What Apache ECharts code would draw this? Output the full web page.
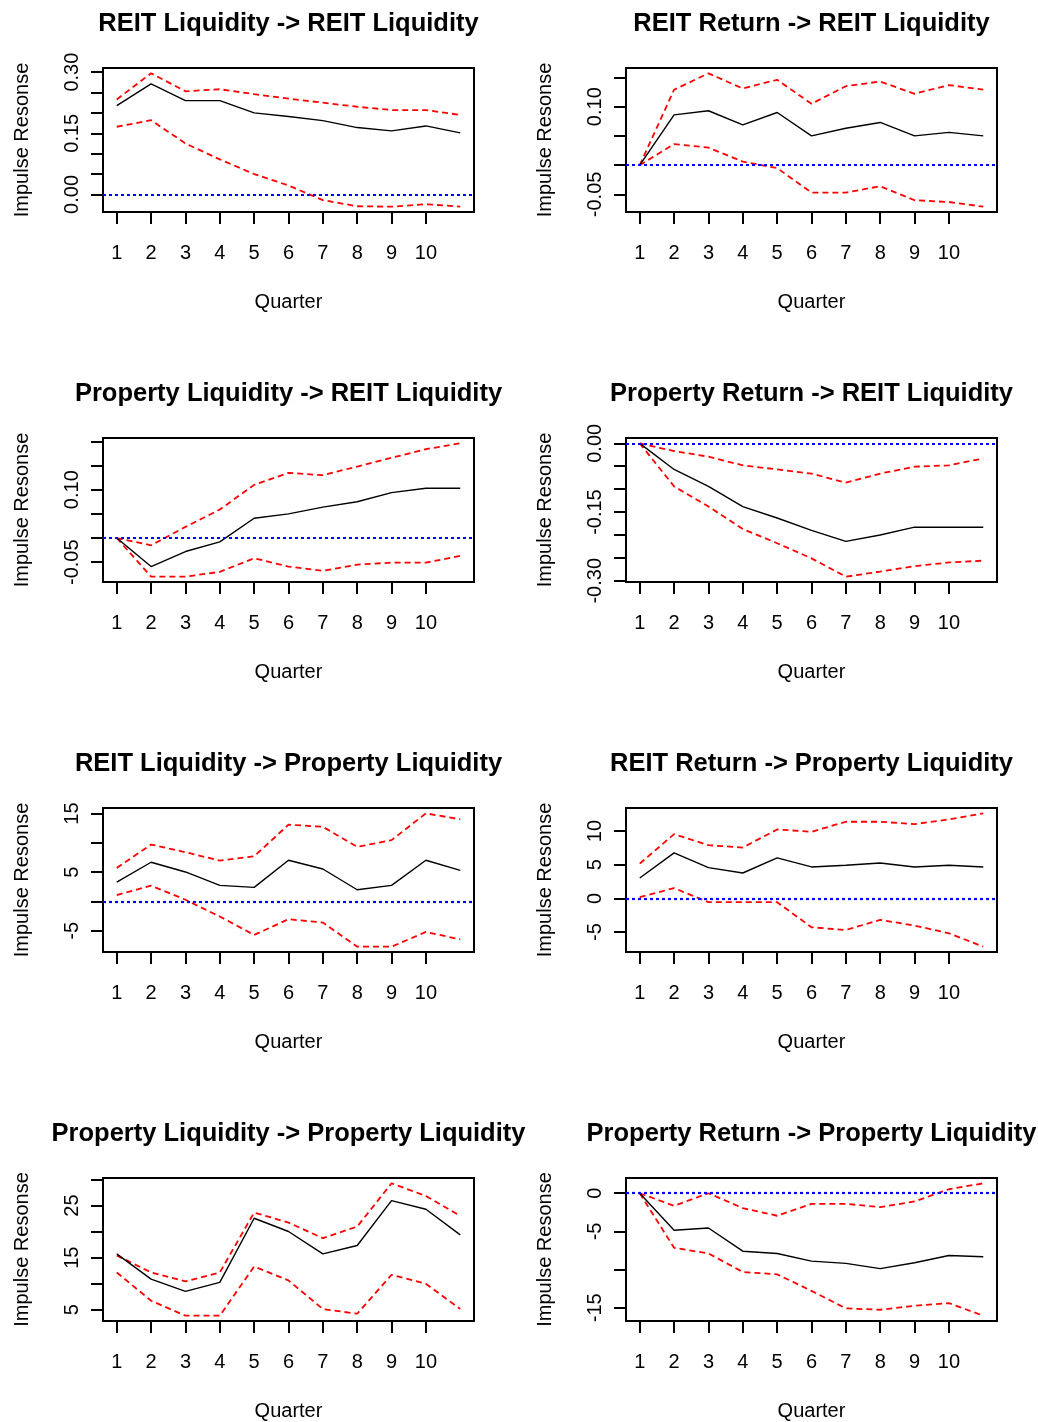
<!DOCTYPE html>
<html>
<head>
<meta charset="utf-8">
<script src="https://cdn.jsdelivr.net/npm/echarts@6/dist/echarts.min.js"></script>
<style>
html,body{margin:0;padding:0;background:#fff;}
#chart{width:1038px;height:1422px;}
</style>
</head>
<body>
<div id="chart"></div>
<script>
// ---------- data ----------
const quarters = [1, 2, 3, 4, 5, 6, 7, 8, 9, 10, 11];
const xTickLabels = [1, 2, 3, 4, 5, 6, 7, 8, 9, 10];
const yAxisTitle = 'Impulse Resonse';
const xAxisTitle = 'Quarter';

const titles = [
  'REIT Liquidity -> REIT Liquidity',
  'REIT Return -> REIT Liquidity',
  'Property Liquidity -> REIT Liquidity',
  'Property Return -> REIT Liquidity',
  'REIT Liquidity -> Property Liquidity',
  'REIT Return -> Property Liquidity',
  'Property Liquidity -> Property Liquidity',
  'Property Return -> Property Liquidity'
];

// Panel 1: REIT Liquidity -> REIT Liquidity
const p1_irf   = [0.218, 0.271, 0.230, 0.230, 0.200, 0.191, 0.181, 0.164, 0.156, 0.168, 0.151];
const p1_upper = [0.233, 0.297, 0.253, 0.258, 0.246, 0.235, 0.225, 0.215, 0.207, 0.207, 0.195];
const p1_lower = [0.166, 0.182, 0.125, 0.086, 0.050, 0.022, -0.014, -0.029, -0.030, -0.024, -0.030];
const p1_ticks  = [0.00, 0.05, 0.10, 0.15, 0.20, 0.25, 0.30];
const p1_labels = [0.00, 0.15, 0.30];

// Panel 2: REIT Return -> REIT Liquidity
const p2_irf   = [0.000, 0.086, 0.093, 0.069, 0.090, 0.050, 0.063, 0.073, 0.050, 0.056, 0.050];
const p2_upper = [0.000, 0.129, 0.157, 0.131, 0.146, 0.105, 0.135, 0.143, 0.122, 0.137, 0.129];
const p2_lower = [0.000, 0.036, 0.030, 0.006, -0.005, -0.047, -0.047, -0.036, -0.060, -0.063, -0.071];
const p2_ticks  = [-0.05, 0.00, 0.05, 0.10, 0.15];
const p2_labels = [-0.05, 0.10];

// Panel 3: Property Liquidity -> REIT Liquidity
const p3_irf   = [0.000, -0.059, -0.028, -0.008, 0.041, 0.050, 0.064, 0.075, 0.094, 0.103, 0.103];
const p3_upper = [0.000, -0.015, 0.023, 0.059, 0.110, 0.135, 0.130, 0.148, 0.166, 0.184, 0.196];
const p3_lower = [0.000, -0.080, -0.080, -0.070, -0.042, -0.059, -0.068, -0.055, -0.051, -0.051, -0.037];
const p3_ticks  = [-0.05, 0.00, 0.05, 0.10, 0.15, 0.20];
const p3_labels = [-0.05, 0.10];

// Panel 4: Property Return -> REIT Liquidity
const p4_irf   = [0.000, -0.057, -0.094, -0.138, -0.163, -0.190, -0.214, -0.200, -0.183, -0.183, -0.183];
const p4_upper = [0.000, -0.017, -0.029, -0.048, -0.057, -0.066, -0.086, -0.066, -0.051, -0.048, -0.033];
const p4_lower = [0.000, -0.094, -0.138, -0.187, -0.218, -0.251, -0.291, -0.280, -0.268, -0.260, -0.256];
const p4_ticks  = [-0.30, -0.25, -0.20, -0.15, -0.10, -0.05, 0.00];
const p4_labels = [-0.30, -0.15, 0.00];

// Panel 5: REIT Liquidity -> Property Liquidity
const p5_irf   = [3.31, 6.69, 5.03, 2.74, 2.40, 7.03, 5.54, 2.00, 2.74, 7.03, 5.31];
const p5_upper = [5.71, 9.71, 8.40, 6.97, 7.71, 13.09, 12.74, 9.31, 10.46, 15.03, 14.00];
const p5_lower = [1.09, 2.69, 0.29, -2.57, -5.71, -3.03, -3.60, -7.71, -7.71, -5.20, -6.46];
const p5_ticks  = [-5, 0, 5, 10, 15];
const p5_labels = [-5, 5, 15];

// Panel 6: REIT Return -> Property Liquidity
const p6_irf   = [3.03, 6.77, 4.58, 3.78, 6.02, 4.68, 4.93, 5.27, 4.68, 4.93, 4.68];
const p6_upper = [5.17, 9.55, 7.91, 7.56, 10.25, 9.90, 11.39, 11.39, 11.04, 11.74, 12.64];
const p6_lower = [0.20, 1.54, -0.55, -0.55, -0.55, -4.28, -4.68, -3.18, -4.03, -5.17, -7.16];
const p6_ticks  = [-5, 0, 5, 10];
const p6_labels = [-5, 0, 5, 10];

// Panel 7: Property Liquidity -> Property Liquidity
const p7_irf   = [15.73, 10.88, 8.51, 10.24, 22.57, 20.02, 15.73, 17.33, 25.96, 24.30, 19.38];
const p7_upper = [15.42, 12.16, 10.43, 12.16, 23.66, 21.74, 18.74, 20.97, 29.28, 26.85, 23.02];
const p7_lower = [12.16, 6.73, 3.85, 3.85, 13.31, 10.62, 5.13, 4.23, 11.71, 9.98, 5.13];
const p7_ticks  = [5, 10, 15, 20, 25, 30];
const p7_labels = [5, 15, 25];

// Panel 8: Property Return -> Property Liquidity
const p8_irf   = [0.00, -4.85, -4.55, -7.59, -7.89, -8.89, -9.19, -9.88, -9.10, -8.15, -8.32];
const p8_upper = [0.00, -1.65, 0.00, -1.95, -2.95, -1.39, -1.39, -1.82, -1.08, 0.52, 1.30];
const p8_lower = [0.00, -7.15, -7.89, -10.32, -10.62, -12.79, -15.08, -15.26, -14.74, -14.39, -16.04];
const p8_ticks  = [-15, -10, -5, 0];
const p8_labels = [-15, -5, 0];

// ---------- layout / styling ----------
const panels = [
  {irf: p1_irf, up: p1_upper, lo: p1_lower, ticks: p1_ticks, labels: p1_labels, dec: 2},
  {irf: p2_irf, up: p2_upper, lo: p2_lower, ticks: p2_ticks, labels: p2_labels, dec: 2},
  {irf: p3_irf, up: p3_upper, lo: p3_lower, ticks: p3_ticks, labels: p3_labels, dec: 2},
  {irf: p4_irf, up: p4_upper, lo: p4_lower, ticks: p4_ticks, labels: p4_labels, dec: 2},
  {irf: p5_irf, up: p5_upper, lo: p5_lower, ticks: p5_ticks, labels: p5_labels, dec: 0},
  {irf: p6_irf, up: p6_upper, lo: p6_lower, ticks: p6_ticks, labels: p6_labels, dec: 0},
  {irf: p7_irf, up: p7_upper, lo: p7_lower, ticks: p7_ticks, labels: p7_labels, dec: 0},
  {irf: p8_irf, up: p8_upper, lo: p8_lower, ticks: p8_ticks, labels: p8_labels, dec: 0}
];

const FONT = 'Liberation Sans, Arial, sans-serif';
const colLeft = [103, 626];
const rowTop = [68, 438, 808, 1178];
const boxW = 371, boxH = 144;

const option = {
  animation: false,
  backgroundColor: '#ffffff',
  title: [], grid: [], xAxis: [], yAxis: [], series: []
};

function pairs(ys) { return quarters.map((q, i) => [q, ys[i]]); }

panels.forEach((p, i) => {
  const col = i % 2, row = Math.floor(i / 2);
  const left = colLeft[col], top = rowTop[row];
  const all = p.irf.concat(p.up, p.lo);
  const dmin = Math.min.apply(null, all), dmax = Math.max.apply(null, all);
  const ext = 0.04 * (dmax - dmin);
  const xmin = quarters[0], xmax = quarters[quarters.length - 1];
  const xext = 0.04 * (xmax - xmin);

  option.title.push({
    text: titles[i],
    left: left + boxW / 2,
    top: top - 57,
    textAlign: 'center',
    padding: 0,
    textStyle: {fontFamily: FONT, fontWeight: 'bold', fontSize: 25.5, color: '#000'}
  });
  option.grid.push({
    left: left, top: top, width: boxW, height: boxH,
    show: true, borderColor: '#000', borderWidth: 2, backgroundColor: 'transparent',
    containLabel: false
  });
  option.xAxis.push({
    type: 'value', gridIndex: i, position: 'bottom',
    min: xmin - xext, max: xmax + xext,
    name: xAxisTitle, nameLocation: 'middle', nameGap: 80,
    nameTextStyle: {fontFamily: FONT, fontSize: 20, color: '#000'},
    axisLine: {show: false, onZero: false},
    splitLine: {show: false},
    axisTick: {show: true, length: 12, customValues: quarters.slice(0, 10), lineStyle: {color: '#000', width: 2}},
    axisLabel: {show: true, customValues: xTickLabels, margin: 31, fontFamily: FONT, fontSize: 20, color: '#000'}
  });
  option.yAxis.push({
    type: 'value', gridIndex: i, position: 'left',
    min: dmin - ext, max: dmax + ext,
    name: yAxisTitle, nameLocation: 'middle', nameGap: 71, nameRotate: 90,
    nameTextStyle: {fontFamily: FONT, fontSize: 20, color: '#000'},
    axisLine: {show: false, onZero: false},
    splitLine: {show: false},
    axisTick: {show: true, length: 12, customValues: p.ticks, lineStyle: {color: '#000', width: 2}},
    axisLabel: {
      show: true, customValues: p.labels, rotate: 90, margin: 21,
      fontFamily: FONT, fontSize: 20, color: '#000',
      formatter: (v) => Number(v).toFixed(p.dec)
    }
  });
  option.series.push({
    type: 'line', xAxisIndex: i, yAxisIndex: i,
    data: pairs(p.up), symbol: 'none', silent: true,
    lineStyle: {color: '#ff0000', width: 1.8, type: [6, 4]}, z: 2
  });
  option.series.push({
    type: 'line', xAxisIndex: i, yAxisIndex: i,
    data: pairs(p.lo), symbol: 'none', silent: true,
    lineStyle: {color: '#ff0000', width: 1.8, type: [6, 4]}, z: 2
  });
  const zeroInRange = (dmin - ext) <= 0 && (dmax + ext) >= 0;
  option.series.push({
    type: 'line', xAxisIndex: i, yAxisIndex: i,
    data: pairs(p.irf), symbol: 'none', silent: true,
    lineStyle: {color: '#000000', width: 1.4}, z: 3,
    markLine: zeroInRange ? {
      silent: true, symbol: 'none', animation: false,
      label: {show: false},
      lineStyle: {color: '#0000ff', type: [3, 3], width: 2.2},
      data: [{yAxis: 0}]
    } : undefined
  });
});

const chart = echarts.init(document.getElementById('chart'), null, {renderer: 'canvas'});
chart.setOption(option);
</script>
</body>
</html>
